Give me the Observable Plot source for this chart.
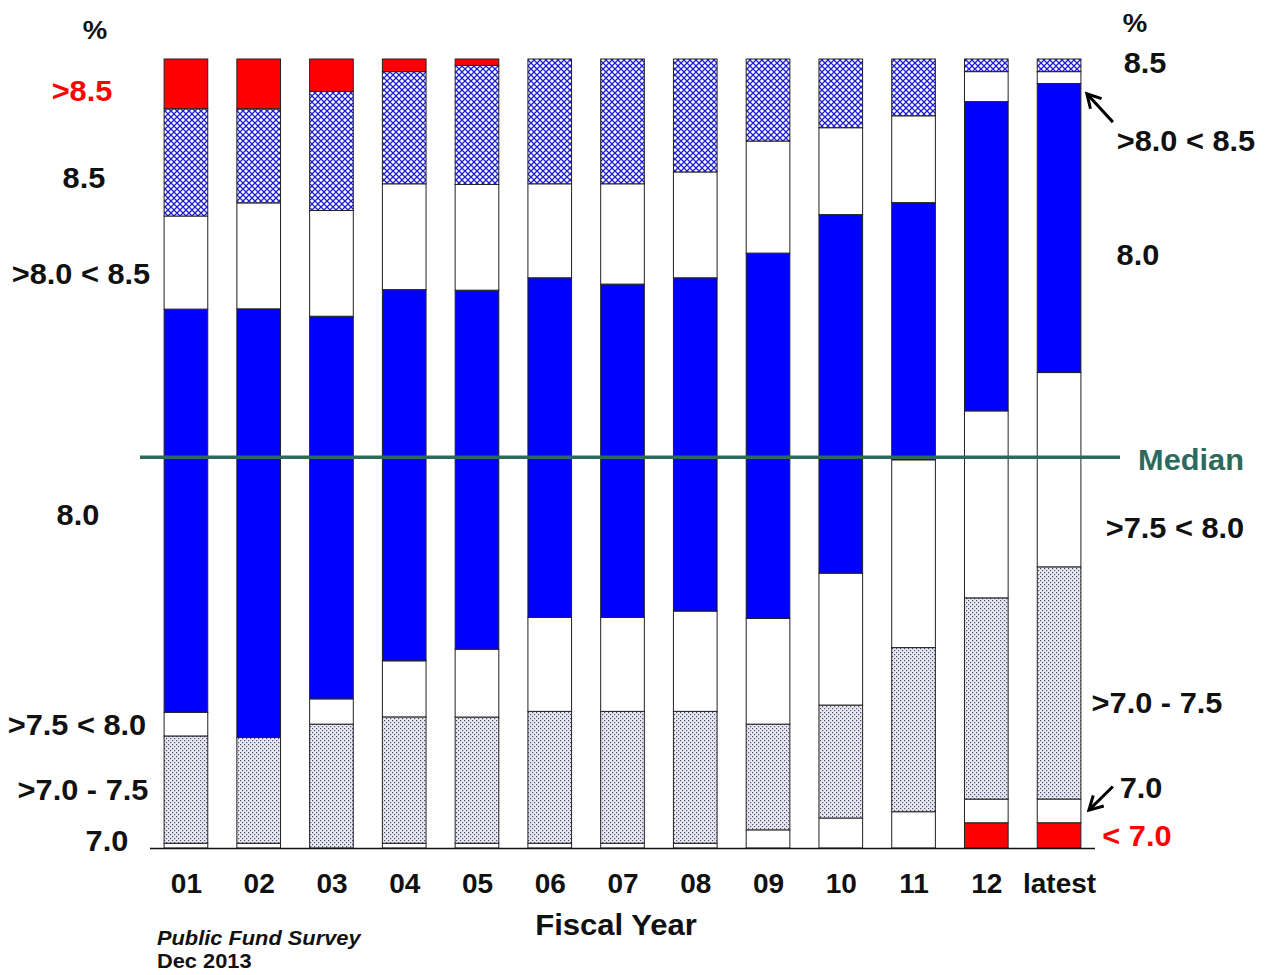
<!DOCTYPE html>
<html>
<head>
<meta charset="utf-8">
<script src="https://cdn.jsdelivr.net/npm/d3@7"></script>
<script src="https://cdn.jsdelivr.net/npm/@observablehq/plot@0.6"></script>
<style>
  html, body { margin: 0; padding: 0; background: #fff; }
  #chart { width: 1275px; height: 975px; }
</style>
</head>
<body>
<div id="chart"></div>
<script>
// ---- data (percent of funds by assumed return category, per fiscal year) ----
const years = ["01","02","03","04","05","06","07","08","09","10","11","12","latest"];
const categories = ["< 7.0","7.0",">7.0 - 7.5",">7.5 < 8.0","8.0",">8.0 < 8.5","8.5",">8.5"];
const lt70   = [0,0,0,0,0,0,0,0,0,0,0,3.2,3.2];
const at70   = [0.6,0.6,0,0.6,0.6,0.6,0.6,0.6,2.3,3.8,4.6,3.0,3.0];
const r70_75 = [13.6,13.4,15.7,16.0,16.0,16.7,16.7,16.7,13.4,14.3,20.8,25.5,29.4];
const r75_80 = [3.0,0,3.2,7.1,8.6,11.9,11.9,12.7,13.4,16.7,23.8,23.7,24.6];
const at80   = [51.1,54.2,48.5,47.0,45.5,43.0,42.2,42.2,46.3,45.4,32.6,39.2,36.6];
const r80_85 = [11.8,13.4,13.4,13.4,13.4,11.9,12.7,13.4,14.2,11.0,11.0,3.8,1.5];
const at85   = [13.6,11.9,15.1,14.2,15.1,15.8,15.8,14.3,10.4,8.7,7.2,1.6,1.6];
const gt85   = [6.3,6.3,4.1,1.6,0.8,0,0,0,0,0,0,0,0];
const medianLevel = 49.6; // percent height of the median line

const series = [lt70, at70, r70_75, r75_80, at80, r80_85, at85, gt85];
const fills = ["#ff0000","#ffffff","url(#dots)","#ffffff","#0000ff","#ffffff","url(#hatch)","#ff0000"];

const table = years.flatMap((yr, i) => categories.map((c, j) => ({year: yr, cat: c, value: series[j][i]})));

const FONT = "'Liberation Sans', Arial, Helvetica, sans-serif";

const plot = Plot.plot({
  width: 1275,
  height: 975,
  marginTop: 59,
  marginBottom: 127,
  marginLeft: 135,
  marginRight: 165,
  style: {fontFamily: FONT, background: "#ffffff"},
  x: {domain: years, padding: 0.4, round: false},
  y: {domain: [0, 1], axis: null},
  color: {domain: categories, range: fills},
  marks: [
    Plot.barY(table, Plot.stackY({offset: "normalize"}, {
      x: "year", y: "value", fill: "cat", stroke: "#222", strokeWidth: 1
    })),
    Plot.ruleY([0], {stroke: "#111", strokeWidth: 1.5, insetLeft: 15, insetRight: 15}),
    Plot.ruleY([medianLevel / 100], {stroke: "#2e6a5c", strokeWidth: 3.5, insetLeft: 5, insetRight: -10}),
    Plot.axisX({tickSize: 0, tickPadding: 25, fontSize: 28, fontWeight: "bold", fill: "#111", label: null})
  ]
});

document.getElementById("chart").appendChild(plot);

const svg = d3.select(plot);
svg.insert("defs", ":first-child").html(`
  <pattern id="hatch" width="6" height="6" patternUnits="userSpaceOnUse">
    <rect width="6" height="6" fill="#ffffff"/>
    <path d="M-1,-1L7,7M7,-1L-1,7" stroke="#1c1cd4" stroke-width="1.25"/>
  </pattern>
  <pattern id="dots" width="4" height="4" patternUnits="userSpaceOnUse">
    <rect width="4" height="4" fill="#e9e9ee"/>
    <rect x="0" y="0" width="1.2" height="1.2" fill="#4a4a86"/>
    <rect x="2" y="2" width="1.2" height="1.2" fill="#4a4a86"/>
  </pattern>
  <marker id="ahead" viewBox="0 0 12 12" refX="10" refY="6" markerWidth="6" markerHeight="6" orient="auto-start-reverse" markerUnits="strokeWidth">
    <path d="M1,1L10,6L1,11" fill="none" stroke="#000" stroke-width="2"/>
  </marker>
`);

const ys = plot.scale("y");
const xs = plot.scale("x");
const yAt = p => ys.apply(p / 100);

// annotation labels: [text, x center, level (% height), colour]
const leftLabels = [
  ["%", 95, 103.7, "#111"],
  [">8.5", 82, 96.0, "#ff0000"],
  ["8.5", 84, 85.0, "#111"],
  [">8.0 < 8.5", 81, 72.8, "#111"],
  ["8.0", 78, 42.2, "#111"],
  [">7.5 < 8.0", 77, 15.6, "#111"],
  [">7.0 - 7.5", 83, 7.4, "#111"],
  ["7.0", 107, 1.0, "#111"]
];
const rightLabels = [
  ["%", 1135, 104.6, "#111"],
  ["8.5", 1145, 99.6, "#111"],
  [">8.0 < 8.5", 1186, 89.6, "#111"],
  ["8.0", 1138, 75.2, "#111"],
  ["Median", 1191, 49.2, "#2e6a5c"],
  [">7.5 < 8.0", 1175, 40.6, "#111"],
  [">7.0 - 7.5", 1157, 18.4, "#111"],
  ["7.0", 1141, 7.7, "#111"],
  ["< 7.0", 1137, 1.6, "#ff0000"]
];

// slightly widen text to match the reference's wider glyphs
function stretch(sel, k) {
  sel.each(function () {
    const w = this.getComputedTextLength();
    if (w > 0) d3.select(this).attr("textLength", w * k).attr("lengthAdjust", "spacingAndGlyphs");
  });
}

const g = svg.append("g").attr("font-family", FONT).attr("font-weight", "bold");
for (const [t, x, lvl, c] of [...leftLabels, ...rightLabels]) {
  const el = g.append("text")
    .attr("x", x).attr("y", yAt(lvl)).attr("dy", "0.36em")
    .attr("text-anchor", "middle")
    .attr("font-size", t === "%" ? 26 : 29)
    .attr("fill", c)
    .text(t);
  stretch(el, 1.06);
}

// axis title and source
stretch(g.append("text").attr("x", 616).attr("y", 935).attr("text-anchor", "middle")
  .attr("font-size", 29).attr("fill", "#111").text("Fiscal Year"), 1.07);
stretch(g.append("text").attr("x", 157).attr("y", 945).attr("text-anchor", "start")
  .attr("font-size", 20).attr("font-style", "italic")
  .attr("fill", "#111").text("Public Fund Survey"), 1.09);
stretch(g.append("text").attr("x", 157).attr("y", 968).attr("text-anchor", "start")
  .attr("font-size", 20).attr("fill", "#111").text("Dec 2013"), 1.09);

// arrows pointing to the thin segments of the "latest" bar
const xEnd = xs.apply("latest") + xs.bandwidth;
svg.append("line")
  .attr("x1", xEnd + 32).attr("y1", yAt(92.0))
  .attr("x2", xEnd + 6).attr("y2", yAt(95.6))
  .attr("stroke", "#000").attr("stroke-width", 3).attr("marker-end", "url(#ahead)");
svg.append("line")
  .attr("x1", xEnd + 32).attr("y1", yAt(7.8))
  .attr("x2", xEnd + 8).attr("y2", yAt(4.8))
  .attr("stroke", "#000").attr("stroke-width", 3).attr("marker-end", "url(#ahead)");
</script>
</body>
</html>
